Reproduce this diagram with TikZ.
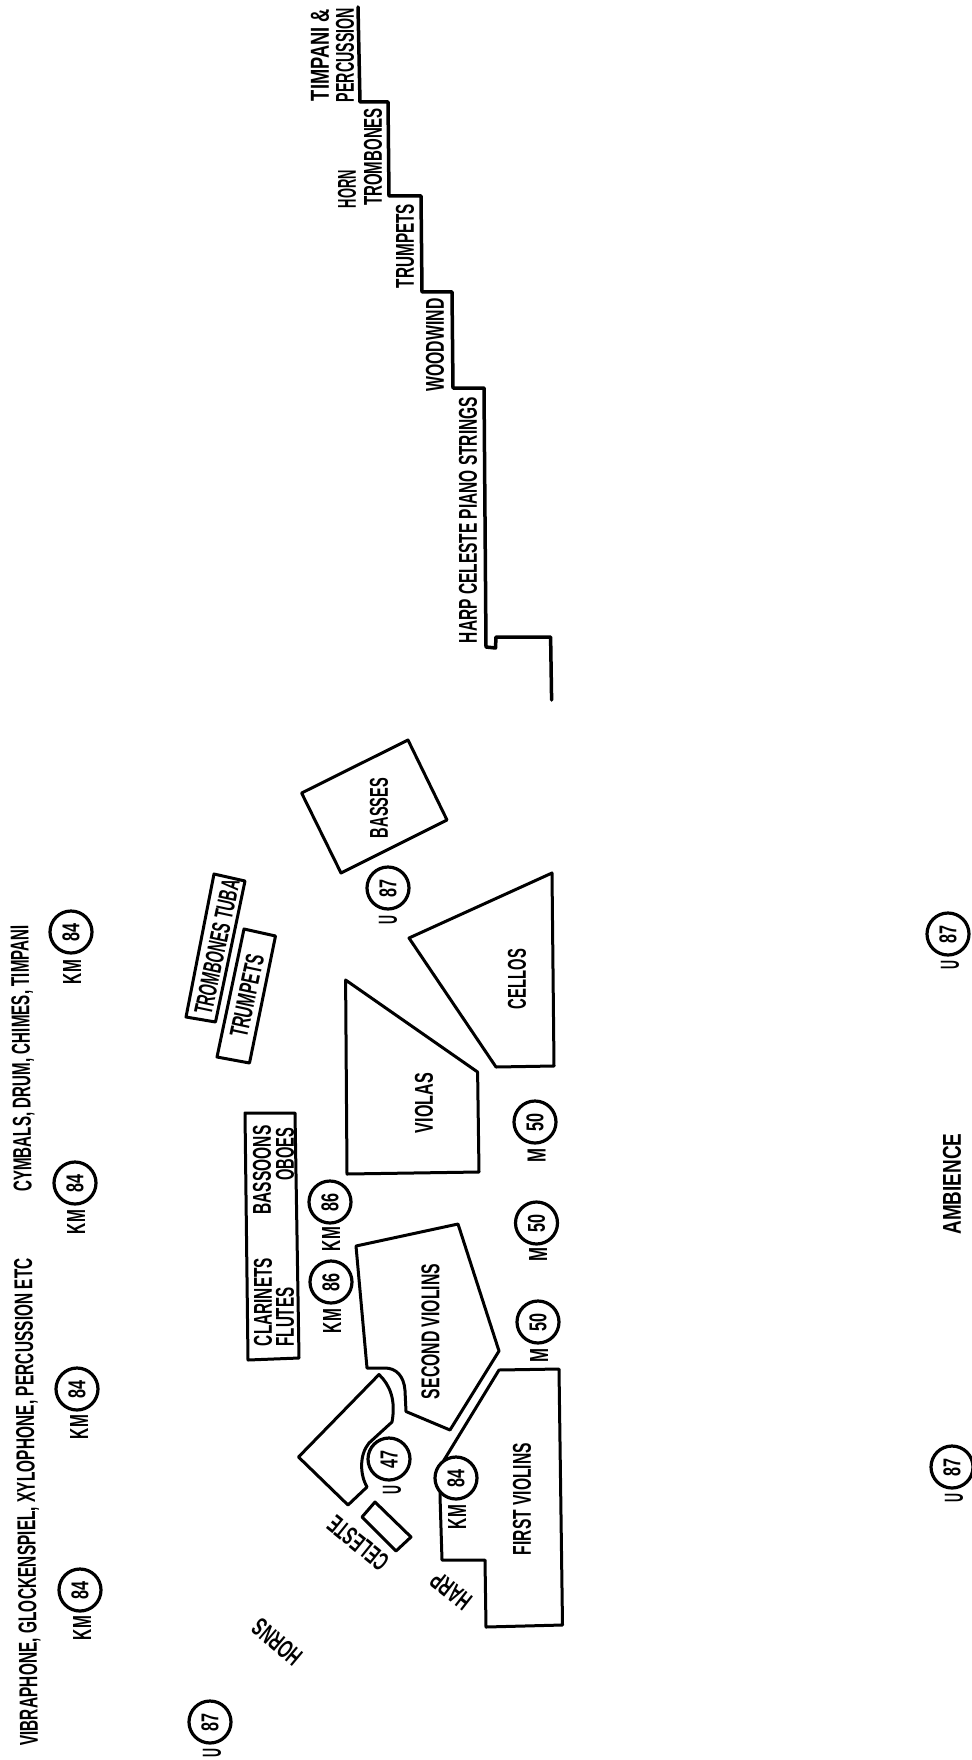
\documentclass[tikz,border=0pt]{standalone}
\usepackage{graphicx}
\usepackage{fontspec}
\setmainfont{Liberation Sans}
\newcommand{\fit}[3][18]{\resizebox{#2pt}{#1pt}{\bfseries #3}}
\tikzset{
  outline/.style={line width=3pt,line join=round,black},
  stair/.style={line width=3.5pt,line join=round,line cap=round,black},
  mic/.style={circle,draw,line width=3.2pt,fill=white,minimum size=42pt,inner sep=0pt,rotate=90},
  lbl/.style={inner sep=0pt,rotate=90},
  tilt/.style={inner sep=0pt,rotate=#1}
}
\begin{document}
\begin{tikzpicture}[x=1pt,y=-1pt]
\useasboundingbox (0,0) rectangle (971,1760);
% staircase
\draw[stair] (358,7)--(360,102)--(388,102)--(389,196)--(421,196)--(422,292)--(452,292)--(453,388)--(484,388)--(486,647)--(495.5,648)--(496,637)--(550.6,637)--(551.6,700);
% shapes
\draw[outline] (408,740)--(447,820)--(341,873)--(301.6,793)--cycle;
\draw[outline] (552,873)--(554,1066)--(496,1067)--(409,938)--cycle;
\draw[outline] (345.6,980)--(477.6,1072)--(479,1172)--(347,1174)--cycle;
\draw[outline] (214,874)--(245,881)--(215.5,1022)--(186,1017)--cycle;
\draw[outline] (244,929)--(275.5,936)--(249.5,1063)--(217,1057)--cycle;
\draw[outline] (245,1113)--(295,1113)--(299,1358)--(248,1360)--cycle;
\draw[outline] (356,1246)--(458,1224)--(499,1351)--(450,1430)--(406,1411.5)--(405,1390.5) .. controls (404,1376) and (396,1368) .. (385,1368)--(367,1368)--cycle;
\draw[outline] (379,1374.5) .. controls (390,1385) and (396,1400) .. (392,1422)--(369,1443) .. controls (359,1455) and (360,1475) .. (367,1487)--(348,1505)--(298.5,1457)--cycle;
\draw[outline] (375,1502)--(411,1537)--(396,1551)--(362,1517)--cycle;
\draw[outline] (499,1370)--(559,1369)--(562.5,1625)--(486,1627)--(485,1560)--(442,1560)--(440,1496)--(441,1465)--cycle;
% text
\node[lbl,rotate=0.7] (vib) at (28,1502) {\fit{488}{VIBRAPHONE, GLOCKENSPIEL, XYLOPHONE, PERCUSSION ETC}};
\node[lbl,rotate=0.7] (cym) at (23,1058.5) {\fit{267}{CYMBALS, DRUM, CHIMES, TIMPANI}};
\node[lbl] (bas) at (262,1170) {\fit{89}{BASSOONS}};
\node[lbl] (obo) at (285,1154) {\fit{53}{OBOES}};
\node[lbl] (cla) at (263,1302) {\fit{88}{CLARINETS}};
\node[lbl] (flu) at (285,1317) {\fit{59}{FLUTES}};
\node[tilt=78] (tt) at (217,947) {\fit{137}{TROMBONES TUBA}};
\node[tilt=78] (tr) at (247,996) {\fit{84}{TRUMPETS}};
\node[lbl] (bs) at (379,808) {\fit{60}{BASSES}};
\node[lbl] (vl) at (424,1103) {\fit{60}{VIOLAS}};
\node[lbl] (ce) at (517,979) {\fit{60}{CELLOS}};
\node[lbl] (sv) at (430.5,1331.5) {\fit{135}{SECOND VIOLINS}};
\node[lbl] (fv) at (522,1499) {\fit{112}{FIRST VIOLINS}};
\node[tilt=141] (cs) at (358,1543) {\fit{70}{CELESTE}};
\node[tilt=142] (hp) at (451,1591) {\fit{44}{HARP}};
\node[tilt=140] (hn) at (277,1642) {\fit{56}{HORNS}};
\node[lbl] (amb) at (952,1184) {\fit{101}{AMBIENCE}};
\node[lbl] (t1) at (320,55) {\fit{92}{TIMPANI \&}};
\node[lbl] (t2) at (345,55) {\fit{94}{PERCUSSION}};
\node[lbl] (t3) at (347,189) {\fit{38}{HORN}};
\node[lbl] (t4) at (373,157) {\fit{98}{TROMBONES}};
\node[lbl] (t5) at (405,246) {\fit{84}{TRUMPETS}};
\node[lbl] (t6) at (435,345) {\fit{93}{WOODWIND}};
\node[lbl] (t7) at (468,520) {\fit{246}{HARP CELESTE PIANO STRINGS}};
% microphones
\foreach \n/\x/\y/\v/\lx/\ly/\lt in {
 a/80/1590/84/82/1628/KM, b/77/1389/84/79/1427/KM, c/75/1183/84/76/1222/KM, d/71/932/84/72/972/KM,
 e/210/1722/87/212/1753/U, f/389/1459/47/392/1490/U, g/456/1478/84/457/1517/KM,
 h/330/1202/86/331/1239/KM, i/331/1282/86/332/1321/KM,
 j/535/1122/50/536.5/1155/M, k/536.5/1223/50/538/1254/M, l/538/1322/50/539/1355/M,
 m/388/888/87/388/920/U, n/948/934/87/950/965/U, o/952/1467/87/954/1498/U}
{
  \node[mic] (mic\n) at (\x,\y) {\fit[17]{18}{\v}};
  \node[lbl] (lab\n) at (\lx,\ly) {\ifnum\pdfstrcmp{\lt}{KM}=0 \fit{24}{KM}\else\ifnum\pdfstrcmp{\lt}{M}=0 \fit{14}{M}\else\fit{9}{U}\fi\fi};
}
\end{tikzpicture}
\end{document}
